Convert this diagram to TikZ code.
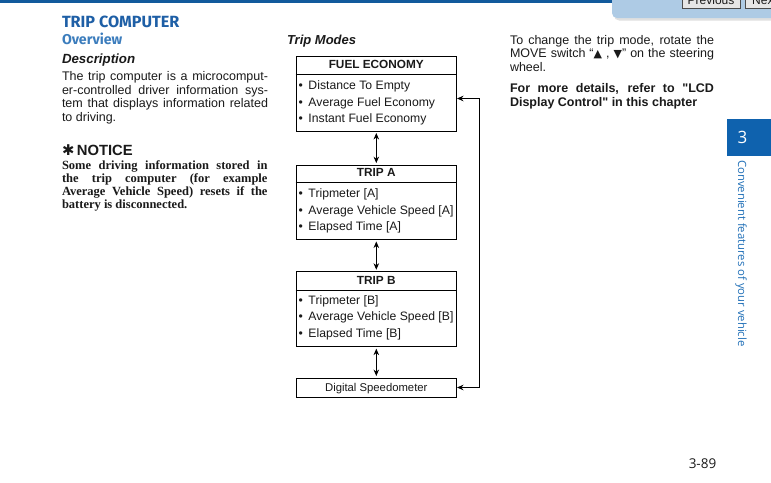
\documentclass[tikz,border=0pt]{standalone}
\usepackage{fontspec}
\setmainfont{Liberation Sans}
\newfontfamily\timesf{Liberation Serif}
\newfontfamily\headf{Fira Sans}
\newfontfamily\opensf{Open Sans}
\newfontfamily\dejavu{DejaVu Sans}
\usetikzlibrary{arrows.meta}
\definecolor{barblue}{HTML}{125A9C}
\definecolor{titleblue}{HTML}{1E5FA6}
\definecolor{ovblue}{HTML}{3C7DBD}
\definecolor{tabblue}{HTML}{AECBE5}
\definecolor{btngray}{HTML}{E6E6E6}
\definecolor{chapblue}{HTML}{0F62AE}
\definecolor{vtextblue}{HTML}{2170B8}
\definecolor{txt}{HTML}{1A1A1A}
\newcommand{\jl}[2]{\makebox[#1][s]{#2}}
\newcommand{\fs}[1]{\fontsize{#1}{#1}\selectfont}
\newcommand{\bul}{\makebox[10pt][l]{\textbullet}}
\begin{document}
\begin{tikzpicture}[x=1pt,y=-1pt,
  txtnode/.style={inner sep=0pt, outer sep=0pt, anchor=base west, text=txt},
  modebox/.style={draw=black, line width=0.9pt, minimum width=160.5pt, inner sep=0pt},
  modetitle/.style={inner sep=0pt, anchor=base, text=txt, font=\bfseries\fs{11.8}},
  item/.style={inner sep=0pt, anchor=base west, text=txt, font=\fs{12.2}},
  dbl/.style={{Stealth[length=6.5pt,width=5.5pt]}-{Stealth[length=6.5pt,width=5.5pt]}, line width=0.9pt, shorten <=1.5pt, shorten >=1.5pt},
  ret/.style={{Stealth[length=6.5pt,width=5.5pt]}-{Stealth[length=6.5pt,width=5.5pt]}, line width=0.9pt},
]
\useasboundingbox (0,0) rectangle (771,482);
\clip (0,0) rectangle (771,482);
\fill[white] (0,0) rectangle (771,482);
% top bar and navigation tab
\fill[barblue] (0,0) rectangle (771,3);
\fill[black!12, rounded corners=5pt] (614,-8) rectangle (780,20.5);
\fill[tabblue, rounded corners=5pt] (612,-8) rectangle (780,18);
\node[draw=black!70, fill=btngray, line width=0.6pt, minimum width=58pt, minimum height=16pt, anchor=south west, inner sep=0pt] (prevbtn) at (682,9) {};
\node[anchor=base, inner sep=0pt, font=\fs{12}, text=txt] (prevtxt) at (711,4) {Previous};
\node[draw=black!70, fill=btngray, line width=0.6pt, minimum width=40pt, minimum height=16pt, anchor=south west, inner sep=0pt] (nextbtn) at (745,9) {};
\node[anchor=base west, inner sep=0pt, font=\fs{12}, text=txt] (nexttxt) at (752,4) {Next};
% left column
\node[txtnode, text=titleblue, font=\headf\bfseries\fs{16.2}] (title) at (62,27) {TRIP COMPUTER};
\node[txtnode, text=ovblue, font=\headf\bfseries\fs{14.2}] (overview) at (62,44.3) {Overview};
\node[txtnode, font=\bfseries\itshape\fs{13.3}] (descr) at (62,63.3) {Description};
\node[txtnode, font=\fs{12.5}] (b1) at (62,80.5) {\jl{206pt}{The trip computer is a microcomput-}};
\node[txtnode, font=\fs{12.5}] (b2) at (62,94) {\jl{206pt}{er-controlled driver information sys-}};
\node[txtnode, font=\fs{12.5}] (b3) at (62,107.5) {\jl{206pt}{tem that displays information related}};
\node[txtnode, font=\fs{12.5}] (b4) at (62,121) {to driving.};
\node[txtnode, font=\bfseries\fs{14.8}] (notice) at (62,155) {{\dejavu\bfseries ✱}\,NOTICE};
\node[txtnode, font=\timesf\bfseries\fs{12.5}] (n1) at (62,169) {\jl{205.5pt}{Some driving information stored in}};
\node[txtnode, font=\timesf\bfseries\fs{12.5}] (n2) at (62,182.3) {\jl{205.5pt}{the trip computer (for example}};
\node[txtnode, font=\timesf\bfseries\fs{12.5}] (n3) at (62,195.7) {\jl{205.5pt}{Average Vehicle Speed) resets if the}};
\node[txtnode, font=\timesf\bfseries\fs{12.5}] (n4) at (62,208.7) {battery is disconnected.};
% trip modes diagram
\node[txtnode, font=\bfseries\itshape\fs{13}] (tm) at (287,44) {Trip Modes};
\node[modebox, minimum height=74.3pt] (fe) at (376.3,93.9) {};
\draw[line width=0.9pt] (fe.west |- 0,74) -- (fe.east |- 0,74);
\node[modetitle] (fet) at (376.3,68.3) {FUEL ECONOMY};
\node[item] (fe1) at (298.3,89.3) {\bul Distance To Empty};
\node[item] (fe2) at (298.3,106) {\bul Average Fuel Economy};
\node[item] (fe3) at (298.3,122.7) {\bul Instant Fuel Economy};
\node[modebox, minimum height=74.5pt] (ta) at (376.3,202.3) {};
\draw[line width=0.9pt] (ta.west |- 0,182.5) -- (ta.east |- 0,182.5);
\node[modetitle] (tat) at (376.3,176.7) {TRIP A};
\node[item] (ta1) at (298.3,197.3) {\bul Tripmeter [A]};
\node[item] (ta2) at (298.3,214) {\bul Average Vehicle Speed [A]};
\node[item] (ta3) at (298.3,230.7) {\bul Elapsed Time [A]};
\node[modebox, minimum height=75pt] (tb) at (376.3,309.2) {};
\draw[line width=0.9pt] (tb.west |- 0,290.5) -- (tb.east |- 0,290.5);
\node[modetitle] (tbt) at (376.3,284.3) {TRIP B};
\node[item] (tb1) at (298.3,304) {\bul Tripmeter [B]};
\node[item] (tb2) at (298.3,320.7) {\bul Average Vehicle Speed [B]};
\node[item] (tb3) at (298.3,337.3) {\bul Elapsed Time [B]};
\node[modebox, minimum height=19pt] (ds) at (376.3,387.5) {};
\node[modetitle, font=\fs{11.3}] (dst) at (376.3,391.2) {Digital Speedometer};
\draw[dbl] (fe.south) -- (ta.north);
\draw[dbl] (ta.south) -- (tb.north);
\draw[dbl] (tb.south) -- (ds.north);
\coordinate (r1) at (479.5,98.5);
\coordinate (r2) at (479.5,387.5);
\draw[ret] (fe.east |- r1) -- (r1) -- (r2) -- (ds.east);
% right column
\node[txtnode, font=\fs{12.5}] (r1a) at (510,44) {\jl{204pt}{To change the trip mode, rotate the}};
\node[txtnode, font=\fs{12.5}] (r1b) at (510,57.5) {\jl{204pt}{MOVE switch “{\dejavu\fs{11}▲} , {\dejavu\fs{11}▼}” on the steering}};
\node[txtnode, font=\fs{12.5}] (r1c) at (510,71) {wheel.};
\node[txtnode, font=\bfseries\fs{12.5}] (r2a) at (510,92.5) {\jl{204pt}{For more details, refer to \textquotedbl LCD}};
\node[txtnode, font=\bfseries\fs{12.5}] (r2b) at (510,106.2) {Display Control\textquotedbl\ in this chapter};
% chapter tab
\fill[chapblue] (727,119) rectangle (771,156);
\node[text=white, font=\opensf\fs{17}, inner sep=0pt] (chap) at (742.5,137) {3};
\node[rotate=-90, anchor=west, inner sep=0pt, text=vtextblue, font=\opensf\fs{11.3}] (vtext) at (741,160) {Convenient features of your vehicle};
\node[anchor=base, inner sep=0pt, text=txt, font=\opensf\fs{13.5}] (pnum) at (702.5,468) {3-89};
\end{tikzpicture}
\end{document}
